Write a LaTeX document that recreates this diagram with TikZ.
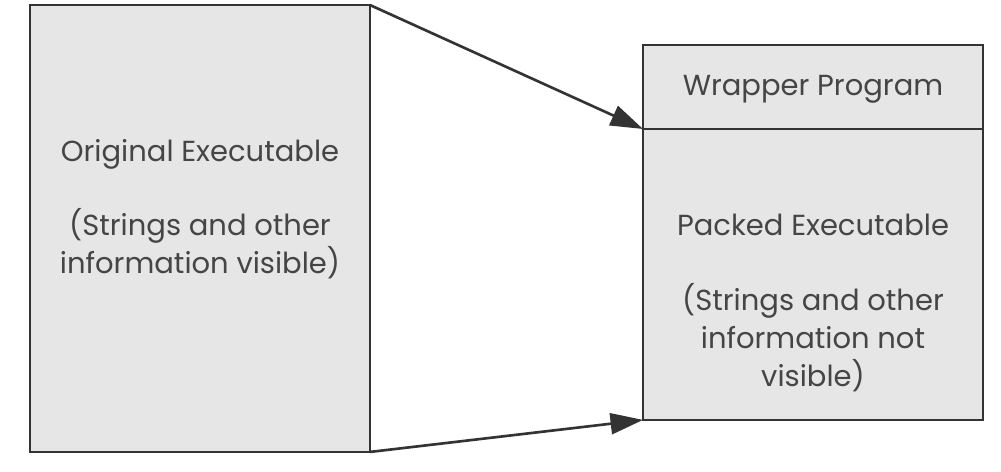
\documentclass[tikz,border=0pt]{standalone}
\usepackage{fontspec}
\setmainfont{Poppins}
\usepackage{tikz}
\usetikzlibrary{arrows.meta, positioning}
\definecolor{boxfill}{HTML}{E6E6E7}
\definecolor{boxline}{HTML}{333333}
\definecolor{txt}{HTML}{454545}

\begin{document}
\begin{tikzpicture}[x=0.02cm, y=-0.02cm]
  \useasboundingbox (0,0) rectangle (1001,472);

\begin{scope}[every node/.style={draw=boxline, fill=boxfill, line width=1.6pt, inner sep=0pt, outer sep=0pt, minimum width=6.8cm}]
  \node (orig) [minimum height=8.94cm] at (200,228.5) {};
  \node (wrap) [minimum height=1.68cm] at (813,87) {};
  \node (packed) [minimum height=5.82cm, below=0pt of wrap] {};
\end{scope}

\begin{scope}[every node/.style={text=txt, align=center, font=\fontsize{16.5}{21.5}\selectfont}]
  \node (origtxt) at (200,209) {Original Executable\\[21pt](Strings and other\\information visible)};
  \node (wraptxt) at (813,89) {Wrapper Program};
  \node (packedtxt) at (813,303) {Packed Executable\\[21pt](Strings and other\\information not\\visible)};
\end{scope}

  \draw[boxline, line width=1.5pt, -{Triangle[length=0.65cm, width=0.42cm]}] (orig.north east) -- (wrap.south west);
  \draw[boxline, line width=1.5pt, -{Triangle[length=0.65cm, width=0.42cm]}] (orig.south east) -- (packed.south west);
\end{tikzpicture}
\end{document}
